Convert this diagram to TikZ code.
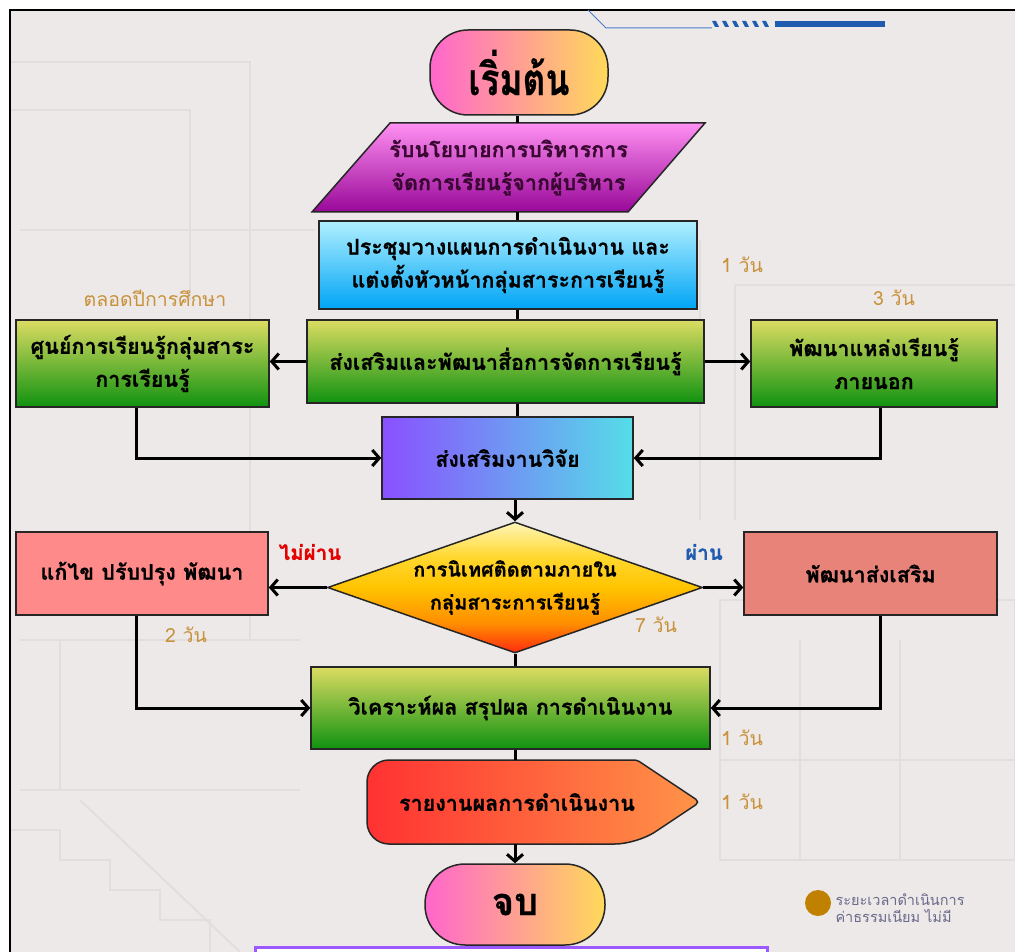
\documentclass[tikz,border=0pt]{standalone}
\usepackage{fontspec}
\newfontfamily\thai[Script=Thai,BoldFeatures={FakeBold=0.6}]{Loma}
\usetikzlibrary{arrows.meta,shapes.geometric}
\definecolor{bgc}{HTML}{ECE9E8}
\definecolor{faint}{HTML}{E1DEDD}
\definecolor{durc}{HTML}{C8913A}
\definecolor{grtop}{HTML}{DCDC62}
\definecolor{grbot}{HTML}{109210}
\definecolor{pinkA}{HTML}{FF66CC}
\definecolor{yelA}{HTML}{FFD95A}
\definecolor{magT}{HTML}{FF90F2}
\definecolor{magM}{HTML}{F040F0}
\definecolor{magB}{HTML}{980898}
\definecolor{poltext}{HTML}{3A0632}
\definecolor{cyT}{HTML}{B0F0FF}
\definecolor{cyB}{HTML}{00A4F6}
\definecolor{resL}{HTML}{8A50FF}
\definecolor{resR}{HTML}{55DDE8}
\definecolor{fixc}{HTML}{FF8A8A}
\definecolor{promc}{HTML}{E8837A}
\definecolor{repL}{HTML}{FF3232}
\definecolor{repR}{HTML}{FF9448}
\definecolor{blueln}{HTML}{4A7FC8}
\definecolor{bluebar}{HTML}{1F5CB0}
\definecolor{purp}{HTML}{9B59FF}
\definecolor{legc}{HTML}{C08000}
\definecolor{legt}{HTML}{6A6A8A}
\definecolor{dRed}{HTML}{FF2A10}
\definecolor{dOr}{HTML}{FF8C00}
\definecolor{dGold}{HTML}{FFC400}
\definecolor{dYel}{HTML}{FFD830}
\definecolor{dPale}{HTML}{FFF6B8}
\pgfdeclareverticalshading{diashade}{100bp}{color(0bp)=(dRed); color(25bp)=(dRed); color(36bp)=(dOr); color(50bp)=(dGold); color(62bp)=(dYel); color(75bp)=(dPale); color(100bp)=(dPale)}
\begin{document}
\begin{tikzpicture}[x=1pt,y=-1pt,
  box/.style={draw=black!85, line width=1.5pt, text=black, align=center, inner sep=0pt,
    font=\thai\bfseries\fontsize{21.5}{33}\selectfont},
  greenbox/.style={box, top color=grtop, bottom color=grbot},
  ghost/.style={inner sep=0pt},
  conn/.style={line width=3pt, black},
  arr/.style={conn, -{Straight Barb[length=7pt,width=16pt,line width=3pt]}},
  dur/.style={text=durc, font=\thai\fontsize{19.5}{22}\selectfont},
  bgline/.style={draw=faint, line width=2pt}
]
\useasboundingbox (0,0) rectangle (1015,952);
\clip (0,0) rectangle (1015,952);
\fill[white] (0,0) rectangle (1015,952);
\fill[bgc] (10,10) rectangle (1030,970);
% faint background building
\draw[bgline] (10,62) -- (250,62) -- (250,640);
\draw[bgline] (10,110) -- (190,110) -- (190,300);
\draw[bgline] (20,230) -- (315,230);
\draw[bgline] (700,240) -- (700,520);
\draw[bgline] (735,285) -- (1015,285);
\draw[bgline] (735,285) -- (735,520);
\draw[bgline] (720,600) rectangle (1015,860);
\draw[bgline] (800,640) -- (800,860);
\draw[bgline] (900,640) -- (900,860);
\draw[bgline] (720,760) -- (1015,760);
\draw[bgline] (20,640) -- (300,640);
\draw[bgline] (60,640) -- (60,790);
\draw[bgline] (20,790) -- (300,790);
\draw[bgline] (10,830) -- (60,830) -- (60,860) -- (110,860) -- (110,890) -- (160,890) -- (160,920) -- (210,920) -- (210,952);
\draw[bgline] (80,800) -- (240,952);
% frame
\draw[line width=2pt] (10,970) -- (10,10) -- (1030,10);
% top-right decoration
\draw[blueln, line width=1pt] (588,10) -- (606,28) -- (712,28);
\foreach \i in {0,...,5} \fill[bluebar] ({712+\i*10},21) -- ({716+\i*10},21) -- ({719+\i*10},27) -- ({715+\i*10},27) -- cycle;
\fill[bluebar] (775,21) rectangle (885,27);

% nodes
\coordinate (col) at (517,0);
\node[box, rounded corners=38pt, minimum width=178pt, minimum height=85pt, left color=pinkA, right color=yelA,
  font=\thai\bfseries\fontsize{44}{48}\selectfont] (start) at (519,72.5) {\scalebox{0.8}[1]{เริ่มต้น}};

\shade[top color=magT, middle color=magM, bottom color=magB, draw=black!85, line width=1.5pt]
  (390,123) -- (705,123) -- (628,212) -- (312,212) -- cycle;
\node[ghost, minimum width=393pt, minimum height=89pt, align=center, text=poltext,
  font=\thai\bfseries\fontsize{21.5}{33}\selectfont] (pol) at (508.5,167.5)
  {รับนโยบายการบริหารการ\\จัดการเรียนรู้จากผู้บริหาร};

\node[box, top color=cyT, bottom color=cyB, minimum width=378pt, minimum height=88pt] (plan) at (508,265)
  {ประชุมวางแผนการดำเนินงาน และ\\แต่งตั้งหัวหน้ากลุ่มสาระการเรียนรู้};

\node[greenbox, minimum width=253pt, minimum height=87pt] (cen) at (142.5,363.5) {ศูนย์การเรียนรู้กลุ่มสาระ\\การเรียนรู้};
\node[greenbox, minimum width=397pt, minimum height=83pt] (media) at (505.5,361.5) {ส่งเสริมและพัฒนาสื่อการจัดการเรียนรู้};
\node[greenbox, minimum width=246pt, minimum height=87pt] (ext) at (874,363.5) {พัฒนาแหล่งเรียนรู้\\ภายนอก};

\node[box, left color=resL, right color=resR, minimum width=251pt, minimum height=82pt] (res) at (507.5,458) {ส่งเสริมงานวิจัย};

\node[diamond, draw=black!85, line width=1.5pt, shading=diashade,
  minimum width=375pt, minimum height=131pt, inner sep=0pt] (dec) at (515,587.5) {};
\node[ghost, align=center, font=\thai\bfseries\fontsize{20}{33}\selectfont] (dect) at (515,587.5)
  {การนิเทศติดตามภายใน\\กลุ่มสาระการเรียนรู้};

\node[box, fill=fixc, minimum width=252pt, minimum height=83pt] (fix) at (142,573.5) {แก้ไข ปรับปรุง พัฒนา};
\node[box, fill=promc, minimum width=253pt, minimum height=83pt] (prom) at (870.5,573.5) {พัฒนาส่งเสริม};

\node[greenbox, minimum width=399pt, minimum height=82pt] (ana) at (510.5,708) {วิเคราะห์ผล สรุปผล การดำเนินงาน};

\shade[left color=repL, right color=repR, draw=black!85, line width=1.5pt, rounded corners=22pt]
  (637,760) -- (367,760) -- (367,844) -- (637,844) [rounded corners=5pt] -- (700,802) [rounded corners=3pt] -- cycle;
\node[ghost, minimum width=333pt, minimum height=84pt] (rep) at (533.5,802) {};
\node[ghost, font=\thai\bfseries\fontsize{21.5}{33}\selectfont] (rept) at (517,802) {รายงานผลการดำเนินงาน};

\node[box, rounded corners=40pt, minimum width=180pt, minimum height=81pt, left color=pinkA, right color=yelA,
  font=\thai\bfseries\fontsize{38}{42}\selectfont] (stop) at (515,904.5) {จบ};

\draw[purp, line width=3pt, fill=white] (255,947) rectangle (767,1000);

% connectors
\draw[conn] (start.south -| col) -- (pol.north -| col);
\draw[conn] (pol.south -| col) -- (plan.north -| col);
\draw[conn] (plan.south -| col) -- (media.north -| col);
\draw[arr] (media.west) -- (media.west -| cen.east);
\draw[arr] (media.east) -- (media.east -| ext.west);
\draw[conn] (media.south -| col) -- (res.north -| col);
\coordinate (lc) at (136,0);
\coordinate (rc) at (880,0);
\draw[arr] (cen.south -| lc) |- (res.west);
\draw[arr] (ext.south -| rc) |- (res.east);
\draw[arr] (res.south -| dec.north) -- (dec.north);
\draw[arr] (dec.west) -- (dec.west -| fix.east);
\draw[arr] (dec.east) -- (dec.east -| prom.west);
\draw[conn] (dec.south) -- (ana.north -| dec.south);
\draw[arr] (fix.south -| lc) |- (ana.west);
\draw[arr] (prom.south -| rc) |- (ana.east);
\draw[conn] (ana.south -| dec.south) -- (rep.north -| dec.south);
\draw[arr] (rep.south -| dec.south) -- (stop.north);

% labels
\node[dur] (d1) at (742,265) {1 วัน};
\node[dur] (d2) at (155,298) {ตลอดปีการศึกษา};
\node[dur] (d3) at (894,298) {3 วัน};
\node[text=red!90!black, font=\thai\bfseries\fontsize{20.5}{22}\selectfont] (no) at (310,552) {ไม่ผ่าน};
\node[text=bluebar, font=\thai\bfseries\fontsize{20.5}{22}\selectfont] (yes) at (704,552) {ผ่าน};
\node[dur] (d4) at (186,635) {2 วัน};
\node[dur] (d5) at (656,625) {7 วัน};
\node[dur] (d6) at (742,738) {1 วัน};
\node[dur] (d7) at (742,802) {1 วัน};

% legend
\fill[legc] (818,903) circle (13pt);
\node[text=legt, align=left, anchor=west, font=\thai\fontsize{14.5}{17}\selectfont] (leg) at (832,908)
  {ระยะเวลาดำเนินการ\\ค่าธรรมเนียม ไม่มี};
\end{tikzpicture}
\end{document}
